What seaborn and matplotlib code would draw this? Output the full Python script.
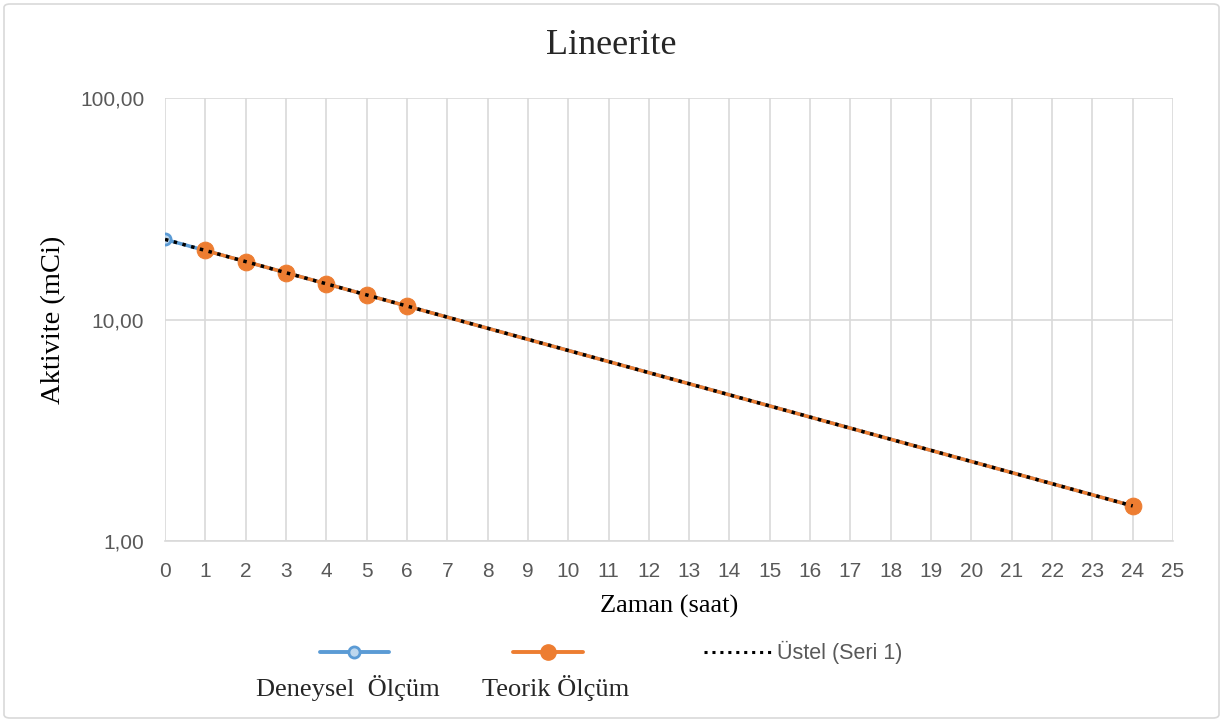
import numpy as np
import pandas as pd
import matplotlib
matplotlib.use("Agg")
import matplotlib.pyplot as plt
from matplotlib.lines import Line2D
from matplotlib.patches import FancyBboxPatch
from matplotlib.ticker import FixedLocator, FuncFormatter, NullLocator
import seaborn as sns

# ---- data ----
deneysel_t = [0, 24]
deneysel_a = [23.0, 1.44]
teorik_t = [1, 2, 3, 4, 5, 6, 24]
teorik_a = [20.49, 18.26, 16.27, 14.49, 12.91, 11.50, 1.44]
x_ticks = list(range(0, 26))
y_ticks = [1, 10, 100]

title = "Lineerite"
xlabel = "Zaman (saat)"
ylabel = "Aktivite (mCi)"
lab_dey = "Deneysel  Ölçüm"
lab_teo = "Teorik Ölçüm"
lab_trend = "Üstel (Seri 1)"

sns.set_style("white")
serif = ["Liberation Serif", "DejaVu Serif"]
sans = ["Liberation Sans", "DejaVu Sans"]

BLUE = "#5b9bd5"
BLUE_FILL = "#bdd7ee"
ORANGE = "#ed7d31"
GRID = "#d9d9d9"
TICK = "#595959"

fig = plt.figure(figsize=(12.23, 7.22), dpi=100)
ax = fig.add_axes([165/1223, 1-541/722, (1173-165)/1223, (541-98)/722])

df_d = pd.DataFrame({"t": deneysel_t, "a": deneysel_a})
df_t = pd.DataFrame({"t": teorik_t, "a": teorik_a})

sns.lineplot(data=df_d, x="t", y="a", ax=ax, color=BLUE, lw=2.5,
             marker="o", markersize=8, markerfacecolor=BLUE_FILL,
             markeredgecolor=BLUE, markeredgewidth=2, zorder=3)
sns.lineplot(data=df_t, x="t", y="a", ax=ax, color=ORANGE, lw=2.5,
             marker="o", markersize=12, markerfacecolor=ORANGE,
             markeredgecolor=ORANGE, zorder=4)

# exponential trendline fitted on series 1
b, a = np.polyfit(deneysel_t, np.log(deneysel_a), 1)
xt = np.linspace(min(deneysel_t), max(deneysel_t), 200)
ax.plot(xt, np.exp(a + b * xt), color="black", lw=2.5,
        linestyle=(0, (1, 1.6)), zorder=5)

ax.set_yscale("log")
ax.set_xlim(0, 25)
ax.set_ylim(1, 100)
ax.xaxis.set_major_locator(FixedLocator(x_ticks))
ax.yaxis.set_major_locator(FixedLocator(y_ticks))
ax.yaxis.set_minor_locator(NullLocator())
ax.yaxis.set_major_formatter(FuncFormatter(lambda v, p: f"{v:.2f}".replace(".", ",")))
ax.xaxis.set_major_formatter(FuncFormatter(lambda v, p: f"{int(v)}"))
ax.grid(True, color=GRID, lw=1.2, zorder=0)
ax.set_axisbelow(True)
for s in ["top", "right", "left"]:
    ax.spines[s].set_visible(False)
ax.spines["bottom"].set_color(GRID)
ax.spines["bottom"].set_linewidth(1.2)
ax.tick_params(axis="x", length=0, labelsize=15, labelcolor=TICK, pad=15)
ax.tick_params(axis="y", length=0, labelsize=15, labelcolor=TICK, pad=15)
for lbl in ax.get_xticklabels() + ax.get_yticklabels():
    lbl.set_family(sans)

ax.set_xlabel(xlabel, family=serif, fontsize=19, color="black", labelpad=10)
ax.set_ylabel(ylabel, family=serif, fontsize=20.5, color="black")
ax.yaxis.set_label_coords((54 - 165) / (1173 - 165), 0.5)
ax.yaxis.label.set_va("center")
fig.text(0.5, 1-45/722, title, ha="center", va="center", family=serif, fontsize=26)

# legend (custom layout like Excel)
def fx(px):
    return px / 1223
def fy(py):
    return 1 - py / 722

ly = 652
fig.add_artist(Line2D([fx(320), fx(389)], [fy(ly), fy(ly)], color=BLUE, lw=2.8,
                      transform=fig.transFigure))
fig.add_artist(Line2D([fx(354)], [fy(ly)], marker="o", markersize=8, color=BLUE,
                      markerfacecolor=BLUE_FILL, markeredgewidth=2, transform=fig.transFigure))
fig.add_artist(Line2D([fx(513), fx(583)], [fy(ly), fy(ly)], color=ORANGE, lw=2.8,
                      transform=fig.transFigure))
fig.add_artist(Line2D([fx(548)], [fy(ly)], marker="o", markersize=11, color=ORANGE,
                      transform=fig.transFigure))
fig.add_artist(Line2D([fx(704), fx(771)], [fy(ly), fy(ly)], color="black", lw=2.2,
                      linestyle=(0, (1, 1.6)), transform=fig.transFigure))
fig.text(fx(777), fy(ly), lab_trend, ha="left", va="center", family=sans,
         fontsize=15.5, color=TICK)
fig.text(fx(348), fy(688), lab_dey, ha="center", va="center", family=serif, fontsize=19)
fig.text(fx(556), fy(688), lab_teo, ha="center", va="center", family=serif, fontsize=19)

# chart border
fig.add_artist(FancyBboxPatch((fx(4), fy(718)), fx(1215), 714/722,
                              boxstyle="round,pad=0,rounding_size=0.005",
                              transform=fig.transFigure, fill=False,
                              edgecolor=GRID, lw=1.2))

fig.savefig("out.png", dpi=100)
